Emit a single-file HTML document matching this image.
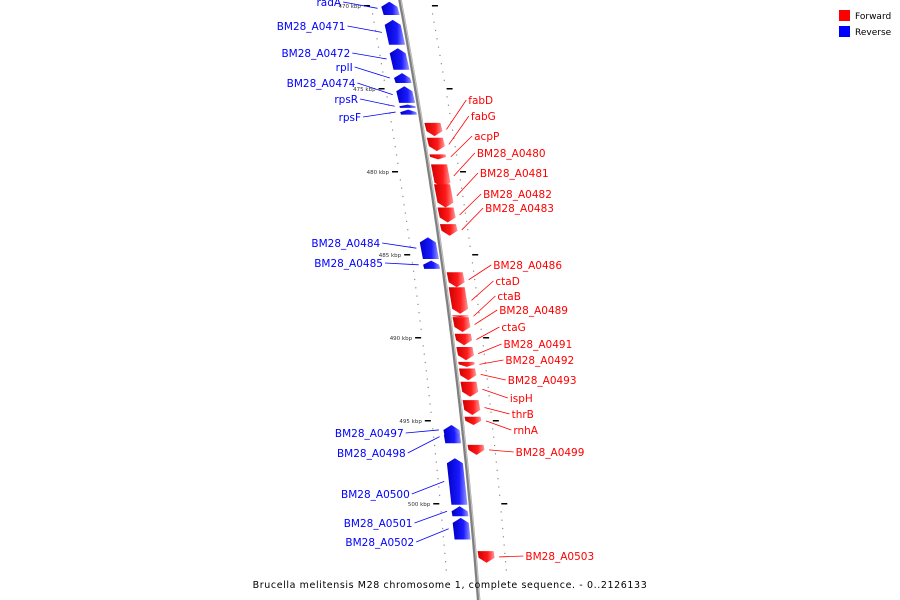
<!DOCTYPE html>
<html><head><meta charset="utf-8"><style>
html,body{margin:0;padding:0;background:#fff;width:900px;height:600px;overflow:hidden}
svg{display:block;font-family:"DejaVu Sans","Liberation Sans",sans-serif}
</style></head><body>
<svg id="map" width="900" height="600" viewBox="0 0 900 600">
<defs>
<linearGradient id="gb" x1="0" x2="1" y1="0" y2="0"><stop offset="0" stop-color="#0000c8"/><stop offset="0.6" stop-color="#1a1aff"/><stop offset="1" stop-color="#9a9aff"/></linearGradient>
<linearGradient id="gr" x1="0" x2="1" y1="0" y2="0"><stop offset="0" stop-color="#d00000"/><stop offset="0.6" stop-color="#ff1a1a"/><stop offset="1" stop-color="#ff9a9a"/></linearGradient>
</defs>
<g id="backbone"></g>
<g id="ticks"></g>
<g id="genes"></g>
<g id="labels"></g>
<g>
<rect x="839" y="10" width="11" height="11" fill="#f00"/>
<text x="855" y="19" font-size="9" fill="#000">Forward</text>
<rect x="839" y="26" width="11" height="11" fill="#00f"/>
<text x="855" y="35" font-size="9" fill="#000">Reverse</text>
</g>
<text x="450" y="588" font-size="9.5" text-anchor="middle" fill="#000" letter-spacing="0.6">Brucella melitensis M28 chromosome 1, complete sequence. - 0..2126133</text>
</svg>
<script>
const geneNames=["radA","BM28_A0471","BM28_A0472","rplI","BM28_A0474","rpsR","rpsF","fabD","fabG","acpP","BM28_A0480","BM28_A0481","BM28_A0482","BM28_A0483","BM28_A0484","BM28_A0485","BM28_A0486","ctaD","ctaB","BM28_A0489","ctaG","BM28_A0491","BM28_A0492","BM28_A0493","ispH","thrB","rnhA","BM28_A0497","BM28_A0498","BM28_A0499","BM28_A0500","BM28_A0501","BM28_A0502","BM28_A0503"];
const geneStrand=["-","-","-","-","-","-","-","+","+","+","+","+","+","+","-","-","+","+","+","+","+","+","+","+","+","+","+","-","-","+","-","-","-","+"];
// gene start/end in kbp
const geneStart=[469.8,470.9,472.6,474.1,474.9,476.0,476.3,477.1,478.0,479.0,479.6,480.8,482.2,483.2,484.0,485.4,486.1,487.0,488.7,488.8,489.8,490.6,491.5,491.9,492.7,493.8,494.8,495.3,495.6,496.5,497.3,500.2,500.9,502.9];
const geneEnd=[470.6,472.4,473.9,474.7,475.9,476.2,476.6,477.9,478.8,479.3,481.0,482.2,483.1,483.9,485.3,485.9,487.0,488.6,488.8,489.7,490.5,491.4,491.8,492.6,493.6,494.7,495.3,495.9,496.4,497.1,500.1,500.8,502.2,503.6];
const labelY=[6,30,57,71,87,103,121,104,120,140,157,177,198,212,247,267,269,285,300,314,331,348,364,384,402,418,434,437,457,456,498,527,546,560];
const tickKbp=[470,475,480,485,490,495,500];

const NS="http://www.w3.org/2000/svg";
function mk(t,a,p){const e=document.createElementNS(NS,t);for(const k in a)e.setAttribute(k,a[k]);p.appendChild(e);return e;}
// axis: kbp -> y
function yOf(k){return (k-470)*16.6+5;}
function bx(y){return 400+0.185*y-0.00009*y*y;}

const bb=document.getElementById('backbone');
let d="";for(let y=-5;y<=605;y+=5)d+=(y<0?"M":"L")+bx(y).toFixed(1)+","+y;
const bl=mk('path',{d:d,stroke:"#808080","stroke-width":3.5,fill:"none"},bb);


const bl2=mk('path',{d:d,stroke:"#c8c8c8","stroke-width":1,fill:"none",transform:"translate(1,0)"},bb);



const tg=document.getElementById('ticks');
for(let k=469.5;k<=504;k+=0.5){
  const y=yOf(k);if(y<0||y>600)continue;
  const major=Math.abs(k-Math.round(k/5)*5)<0.01;
  [-1,1].forEach(s=>{
    const x=bx(y)+s*(major?34:30);
    const t=mk('rect',{x:x-(major?3:0.5),y:y,width:major?6:1.2,height:major?1.5:1.2,fill:major?"#000":"#888"},tg);
    
    
  });
}
tickKbp.forEach(k=>{
  const y=yOf(k);
  const t=mk('text',{x:bx(y)-40,y:y+3,"font-size":5.5,fill:"#333","text-anchor":"end"},tg);
  t.textContent=k+" kbp";
  
  
});

const gg=document.getElementById('genes'),lg=document.getElementById('labels');
geneNames.forEach((n,i)=>{
  const y1=yOf(geneStart[i]),y2=yOf(geneEnd[i]);
  const fwd=geneStrand[i]==="+";
  const w=16,ah=Math.min(5,(y2-y1)/2);
  const xa=bx(y1),xb=bx(y2);
  let pts;
  if(fwd){const a1=xa+3,b1=xb+3;
    pts=[[a1,y1],[a1+w,y1],[b1+w,y2-ah],[(b1+b1+w)/2,y2],[b1,y2-ah]];
  }else{const a1=xa-3-w,b1=xb-3-w;
    pts=[[(a1+a1+w)/2,y1],[a1+w,y1+ah],[b1+w,y2],[b1,y2],[a1,y1+ah]];
  }
  const p=mk('polygon',{points:pts.map(q=>q[0].toFixed(1)+","+q[1].toFixed(1)).join(" "),fill:fwd?"url(#gr)":"url(#gb)"},gg);
  
  
  const col=fwd?"#f00":"#00f";
  const gy=(y1+y2)/2, ly=labelY[i];
  if(fwd){
    const gx=bx(gy)+24, lx=Math.max(gx+20,bx(ly)+50);
    const l=mk('line',{x1:gx,y1:gy,x2:lx-2,y2:ly-4,stroke:col,"stroke-width":0.8},lg);
    
    
    const t=mk('text',{x:lx,y:ly,"font-size":10.5,fill:col},lg);t.textContent=n;
    
    
  }else{
    const gx=bx(gy)-24, lx=Math.min(gx-20,bx(ly)-60);
    const l=mk('line',{x1:gx,y1:gy,x2:lx+2,y2:ly-4,stroke:col,"stroke-width":0.8},lg);
    
    
    const t=mk('text',{x:lx,y:ly,"font-size":10.5,fill:col,"text-anchor":"end"},lg);t.textContent=n;
    
    
  }
});
</script>
</body></html>
